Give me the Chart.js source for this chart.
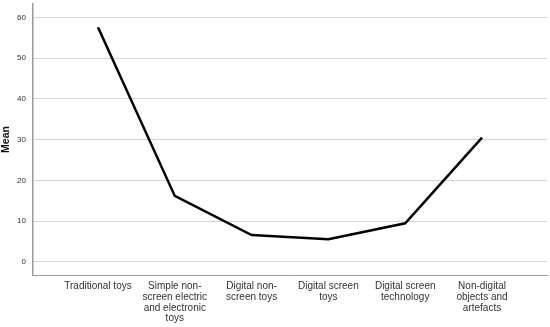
<!DOCTYPE html>
<html>
<head>
<meta charset="utf-8">
<script src="https://cdn.jsdelivr.net/npm/chart.js@4/dist/chart.umd.min.js"></script>
<style>
  html, body { margin: 0; padding: 0; background: #fff; }
  #wrap { width: 550px; height: 327px; }
</style>
</head>
<body>
<div id="wrap"><canvas id="mean-chart" width="550" height="327"></canvas></div>
<script>
const categories = [
    ['Traditional toys'],
    ['Simple non-', 'screen electric', 'and electronic', 'toys'],
    ['Digital non-', 'screen toys'],
    ['Digital screen', 'toys'],
    ['Digital screen', 'technology'],
    ['Non-digital', 'objects and', 'artefacts']
];
const meanValues = [57.6, 16.2, 6.6, 5.6, 9.5, 30.5];
const yTicks = [0, 10, 20, 30, 40, 50, 60];

const ctx = document.getElementById('mean-chart').getContext('2d');
const chart = new Chart(ctx, {
    type: 'line',
    data: {
        datasets: [{
            data: meanValues.map((v, i) => ({ x: i, y: v })),
            borderColor: '#000',
            borderWidth: 2.5,
            pointRadius: 0,
            fill: false,
            tension: 0
        }]
    },
    options: {
        responsive: false,
        animation: false,
        layout: { padding: { top: 4, right: 3 } },
        plugins: { legend: { display: false }, tooltip: { enabled: false } },
        scales: {
            x: {
                type: 'linear',
                min: -0.846,
                max: 5.846,
                afterBuildTicks: scale => {
                    scale.ticks = categories.map((c, i) => ({ value: i }));
                },
                afterFit: scale => {
                    scale.height = 52;
                    scale.paddingLeft = 0;
                    scale.paddingRight = 0;
                },
                grid: { display: false, drawTicks: false },
                border: { color: '#9a9a9a', width: 1 },
                ticks: {
                    autoSkip: false,
                    maxRotation: 0,
                    padding: 6,
                    color: '#333',
                    font: { family: 'Liberation Sans', size: 10, lineHeight: 1.07 },
                    callback: value => categories[value]
                }
            },
            y: {
                min: -3.2,
                max: 63.3,
                afterBuildTicks: scale => {
                    scale.ticks = yTicks.map(v => ({ value: v }));
                },
                afterFit: scale => {
                    scale.width = 33;
                    scale.paddingTop = 0;
                    scale.paddingBottom = 0;
                },
                grid: { color: '#d4d4d4', lineWidth: 1, drawTicks: false },
                border: { color: '#9a9a9a', width: 1.5 },
                title: {
                    display: true,
                    text: 'Mean',
                    color: '#111',
                    padding: 0,
                    font: { family: 'Liberation Sans', size: 10.5, weight: 'bold' }
                },
                ticks: {
                    padding: 7,
                    color: '#333',
                    font: { family: 'Liberation Sans', size: 8 }
                }
            }
        }
    }
});
</script>
</body>
</html>
